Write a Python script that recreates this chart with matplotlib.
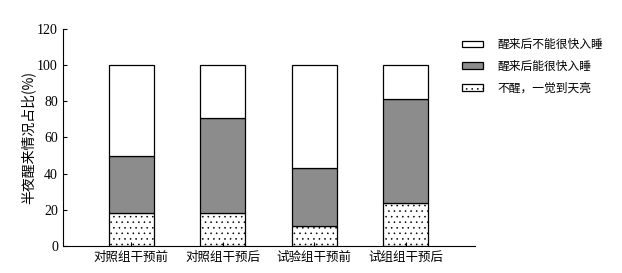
import numpy as np
import matplotlib
matplotlib.use('Agg')
import matplotlib.pyplot as plt
from matplotlib.patches import Patch

plt.rcParams['font.family'] = ['Noto Sans CJK SC', 'DejaVu Sans']
plt.rcParams['hatch.linewidth'] = 0.4

groups = ['对照组干预前', '对照组干预后', '试验组干预前', '试组组干预后']
no_wake = [18, 18, 11, 24]          # 不醒，一觉到天亮
quick_sleep = [32, 53, 32, 57]       # 醒来后能很快入睡
slow_sleep = [50, 29, 57, 19]        # 醒来后不能很快入睡
yticks = [0, 20, 40, 60, 80, 100, 120]

fig = plt.figure(figsize=(6.22, 2.73), dpi=100)
ax = fig.add_axes([0.101, 0.099, 0.663, 0.795])

x = np.arange(len(groups))
w = 0.49
b1 = np.array(no_wake)
b2 = b1 + np.array(quick_sleep)

ax.bar(x, no_wake, w, color='white', edgecolor='black', hatch='...', linewidth=0.9)
ax.bar(x, quick_sleep, w, bottom=b1, color='#8c8c8c', edgecolor='black', linewidth=0.9)
ax.bar(x, slow_sleep, w, bottom=b2, color='white', edgecolor='black', linewidth=0.9)

ax.set_xlim(-0.75, 3.76)
ax.set_ylim(0, 120)
ax.set_yticks(yticks)
ax.set_yticklabels([str(v) for v in yticks], family='Liberation Serif', fontsize=10)
ax.set_xticks(x)
ax.set_xticklabels(groups, fontsize=9)
ax.tick_params(direction='in', length=3, width=0.8)
ax.spines['top'].set_visible(False)
ax.spines['right'].set_visible(False)
ax.set_ylabel('半夜醒来情况占比(%)', fontsize=10, labelpad=1)

handles = [
    Patch(facecolor='white', edgecolor='black', linewidth=0.9),
    Patch(facecolor='#8c8c8c', edgecolor='black', linewidth=0.9),
    Patch(facecolor='white', edgecolor='black', hatch='...', linewidth=0.9),
]
labels = ['醒来后不能很快入睡', '醒来后能很快入睡', '不醒，一觉到天亮']
fig.legend(handles, labels, loc='upper left', bbox_to_anchor=(0.725, 0.9),
           frameon=False, fontsize=8.5, handlelength=1.8, handleheight=0.45,
           labelspacing=0.75, handletextpad=1.2)

plt.savefig('out.png', dpi=100)
